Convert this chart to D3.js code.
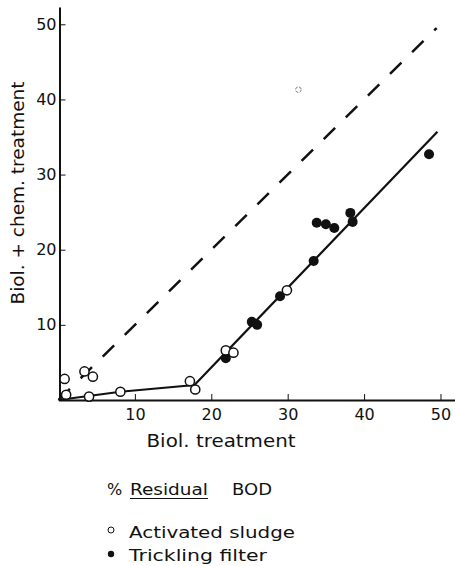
<!DOCTYPE html>
<html>
<head>
<meta charset="utf-8">
<script src="https://cdn.jsdelivr.net/npm/d3@7"></script>
<style>
  body { margin: 0; background: #fff; }
  svg { display: block; }
  text { font-family: "DejaVu Sans", sans-serif; fill: #111; }
</style>
</head>
<body>
<svg id="chart" width="455" height="566"></svg>
<script>
// ---- data ----
const xTicks = [10, 20, 30, 40, 50];
const yTicks = [10, 20, 30, 40, 50];

// Activated sludge (open circles): [biol, biol+chem]
const activatedX = [0.8, 1.0, 3.4, 4.5, 4.0, 8.1, 17.2, 17.9, 21.9, 22.9, 29.9];
const activatedY = [2.8, 0.7, 3.8, 3.1, 0.45, 1.1, 2.5, 1.4, 6.6, 6.3, 14.6];
// faint outlier
const outlierX = [31.4];
const outlierY = [41.3];

// Trickling filter (filled circles)
const tricklingX = [21.9, 25.3, 26.0, 29.0, 33.4, 33.8, 35.0, 36.1, 38.2, 38.5, 48.5];
const tricklingY = [5.55, 10.4, 10.0, 13.8, 18.5, 23.6, 23.4, 22.9, 24.9, 23.7, 32.7];

// fitted solid line
const fitX = [0, 8.1, 17.8, 49.6];
const fitY = [0, 1.1, 2.0, 35.7];

// 1:1 dashed line
const equalX = [0, 49.5];
const equalY = [0, 49.5];

// ---- drawing ----
const svg = d3.select("#chart");
const x = d3.scaleLinear().domain([0, 51.9]).range([58.5, 455]);
const y = d3.scaleLinear().domain([0, 52.3]).range([400, 7]);

const zip = (a, b) => a.map((v, i) => [v, b[i]]);

// axes
const xAxis = svg.append("g")
  .attr("transform", "translate(0,400)")
  .call(d3.axisBottom(x).tickValues(xTicks).tickSize(-6).tickSizeOuter(0).tickPadding(9));
const yAxis = svg.append("g")
  .attr("transform", "translate(59.5,0)")
  .call(d3.axisLeft(y).tickValues(yTicks).tickSize(-6).tickSizeOuter(0).tickPadding(3));

[xAxis, yAxis].forEach(g => {
  g.select(".domain").attr("stroke", "#111").attr("stroke-width", 2);
  g.selectAll(".tick line").attr("stroke", "#111").attr("stroke-width", 1);
  g.selectAll(".tick text").attr("font-size", 16).attr("font-family", "DejaVu Sans, sans-serif").attr("fill", "#111");
});

const line = d3.line().x(d => x(d[0])).y(d => y(d[1]));

// dashed 1:1 line
svg.append("path")
  .datum(zip(equalX, equalY))
  .attr("d", line)
  .attr("fill", "none")
  .attr("stroke", "#111")
  .attr("stroke-width", 2.5)
  .attr("stroke-dasharray", "16,15");

// solid fitted line
svg.append("path")
  .datum(zip(fitX, fitY))
  .attr("d", line)
  .attr("fill", "none")
  .attr("stroke", "#111")
  .attr("stroke-width", 2.2);

// trickling filter points
svg.append("g").selectAll("circle")
  .data(zip(tricklingX, tricklingY))
  .join("circle")
  .attr("cx", d => x(d[0]))
  .attr("cy", d => y(d[1]))
  .attr("r", 5)
  .attr("fill", "#111");

// activated sludge points
svg.append("g").selectAll("circle")
  .data(zip(activatedX, activatedY))
  .join("circle")
  .attr("cx", d => x(d[0]))
  .attr("cy", d => y(d[1]))
  .attr("r", 4.6)
  .attr("fill", "#fff")
  .attr("stroke", "#111")
  .attr("stroke-width", 1.5);

svg.append("g").selectAll("circle")
  .data(zip(outlierX, outlierY))
  .join("circle")
  .attr("cx", d => x(d[0]))
  .attr("cy", d => y(d[1]))
  .attr("r", 2.8)
  .attr("fill", "#fff")
  .attr("stroke", "#777")
  .attr("stroke-width", 1)
  .attr("stroke-dasharray", "3,1.5");

// axis titles
svg.append("text")
  .attr("x", 221).attr("y", 447)
  .attr("text-anchor", "middle")
  .attr("font-size", 17)
  .attr("textLength", 149).attr("lengthAdjust", "spacingAndGlyphs")
  .text("Biol. treatment");

svg.append("text")
  .attr("transform", "translate(24,193) rotate(-90)")
  .attr("text-anchor", "middle")
  .attr("font-size", 17)
  .attr("textLength", 223).attr("lengthAdjust", "spacingAndGlyphs")
  .text("Biol. + chem. treatment");

// legend
const leg = svg.append("g");
leg.append("text").attr("x", 107).attr("y", 495).attr("font-size", 16).text("%");
leg.append("text").attr("x", 130).attr("y", 495).attr("font-size", 16)
  .attr("textLength", 78).attr("lengthAdjust", "spacingAndGlyphs").text("Residual");
leg.append("line").attr("x1", 130).attr("x2", 208).attr("y1", 498.5).attr("y2", 498.5)
  .attr("stroke", "#111").attr("stroke-width", 1.2);
leg.append("text").attr("x", 232).attr("y", 495).attr("font-size", 16)
  .attr("textLength", 40).attr("lengthAdjust", "spacingAndGlyphs").text("BOD");

leg.append("circle").attr("cx", 111).attr("cy", 530).attr("r", 3)
  .attr("fill", "#fff").attr("stroke", "#111").attr("stroke-width", 1);
leg.append("text").attr("x", 129).attr("y", 538).attr("font-size", 16)
  .attr("textLength", 166).attr("lengthAdjust", "spacingAndGlyphs").text("Activated  sludge");

leg.append("circle").attr("cx", 111).attr("cy", 554).attr("r", 3.2).attr("fill", "#111");
leg.append("text").attr("x", 129).attr("y", 561).attr("font-size", 16)
  .attr("textLength", 138).attr("lengthAdjust", "spacingAndGlyphs").text("Trickling  filter");
</script>
</body>
</html>
